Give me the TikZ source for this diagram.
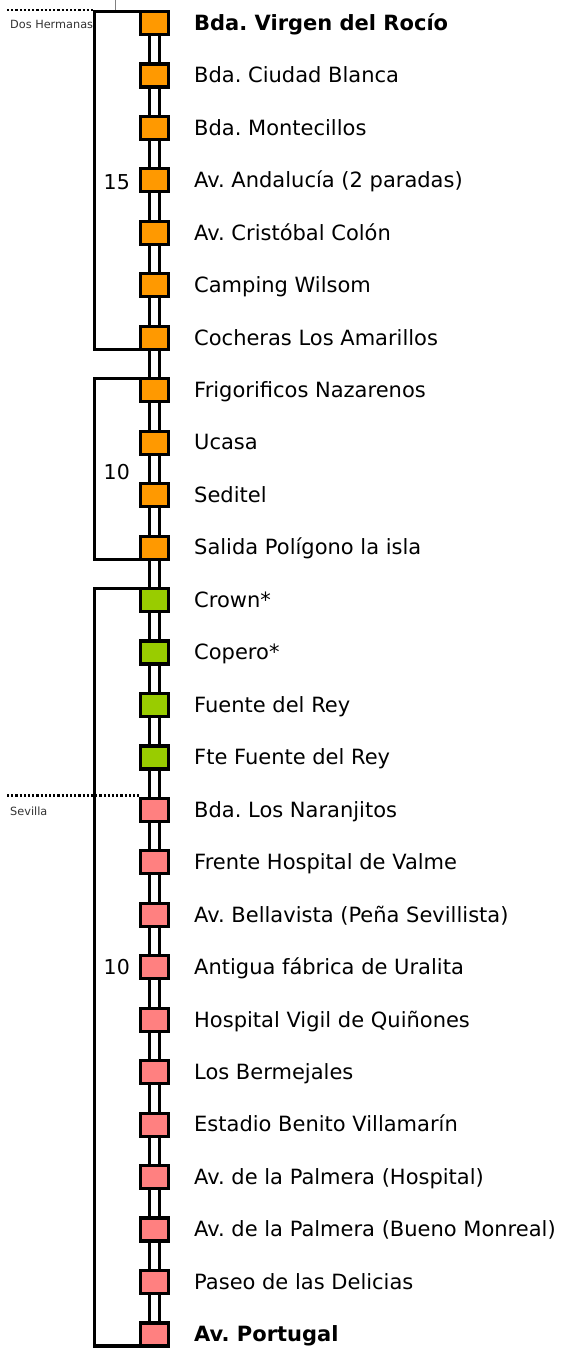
\documentclass[tikz,border=0pt]{standalone}
\usepackage{fontspec}
\setmainfont{DejaVu Sans}
\definecolor{orng}{HTML}{FF9900}
\definecolor{grn}{HTML}{99CC00}
\definecolor{pnk}{HTML}{FF8080}
\frenchspacing
\begin{document}
\begin{tikzpicture}[x=1pt,y=-1pt,
  stopbox/.style={draw, line width=3.2pt, minimum width=28pt, minimum height=23pt, inner sep=0pt, outer sep=0pt},
  lbl/.style={anchor=base west, font=\fontsize{21}{24}\selectfont, inner sep=0pt},
  num/.style={anchor=base east, font=\fontsize{20.5}{24}\selectfont, inner sep=0pt},
  small/.style={anchor=west, font=\fontsize{11.3}{13}\selectfont, text=black!80, inner sep=0pt},
  rail/.style={line width=3.2pt},
  brk/.style={line width=3.2pt, line cap=rect},
  dots/.style={line width=2.4pt, dash pattern=on 2.2pt off 2pt}]
\useasboundingbox (0,0) rectangle (564,1349);
\foreach \c/\t [count=\i] in {
  orng/{\bfseries Bda. Virgen del Rocío},
  orng/{Bda. Ciudad Blanca},
  orng/{Bda. Montecillos},
  orng/{Av. Andalucía (2 paradas)},
  orng/{Av. Cristóbal Colón},
  orng/{Camping Wilsom},
  orng/{Cocheras Los Amarillos},
  orng/{Frigorificos Nazarenos},
  orng/{Ucasa},
  orng/{Seditel},
  orng/{Salida Polígono la isla},
  grn/{Crown*},
  grn/{Copero*},
  grn/{Fuente del Rey},
  grn/{Fte Fuente del Rey},
  pnk/{Bda. Los Naranjitos},
  pnk/{Frente Hospital de Valme},
  pnk/{Av. Bellavista (Peña Sevillista)},
  pnk/{Antigua fábrica de Uralita},
  pnk/{Hospital Vigil de Quiñones},
  pnk/{Los Bermejales},
  pnk/{Estadio Benito Villamarín},
  pnk/{Av. de la Palmera (Hospital)},
  pnk/{Av. de la Palmera (Bueno Monreal)},
  pnk/{Paseo de las Delicias},
  pnk/{\bfseries Av. Portugal}} {
  \node[stopbox, fill=\c] (b\i) at (154.5, {23+(\i-1)*52.46}) {};
  \node[lbl] (l\i) at (194, {23+(\i-1)*52.46+7.3}) {\t};
}
\foreach \i [evaluate=\i as \j using int(\i+1)] in {1,...,25} {
  \draw[rail] ([xshift=-5pt]b\i.south) -- ([xshift=-5pt]b\j.north);
  \draw[rail] ([xshift=5pt]b\i.south) -- ([xshift=5pt]b\j.north);
}
\node[small] (dh) at (10,24) {Dos Hermanas};
\node[small] (sv) at (10,811) {Sevilla};
\node[num] (n1) at (130,189) {15};
\node[num] (n2) at (130,479.5) {10};
\node[num] (n3) at (130,974.5) {10};
\coordinate (bx) at (94.5,0);
\coordinate (g) at (115,0);
\coordinate (d1) at (7,10);
\coordinate (d2) at (7,795.5);
\draw[gray, line width=1pt] (g) -- (g |- b1.north);
\draw[dots] (d1) -- (d1 -| bx);
\draw[dots] (d2) -- (d2 -| b16.west);
\draw[brk] (b1.north east) -- (b1.north east -| bx) |- (b7.south west);
\draw[brk] (b8.north west) -- (b8.north west -| bx) |- (b11.south west);
\draw[brk] (b12.north west) -- (b12.north west -| bx) |- (b26.south west);
\end{tikzpicture}
\end{document}
